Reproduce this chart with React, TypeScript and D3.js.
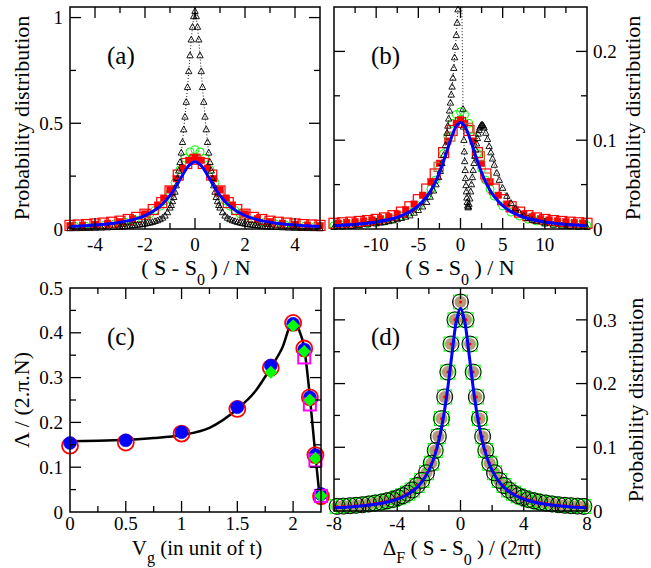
import * as d3 from 'd3';
import * as React from 'react';

type Pt = [number, number];

const serif = 'Liberation Serif, Times New Roman, DejaVu Serif, serif';

// ---------- panel (a) ----------
const aXTicks = [-4, -2, 0, 2, 4];
const aYTicks = [0, 0.5, 1];
const aTriangles: Pt[] = [
  [-5, 0.002], [-4.75, 0.0025], [-4.5, 0.003], [-4.25, 0.0035], [-4, 0.004], [-3.75, 0.005], [-3.5, 0.0065], [-3.25, 0.008],
  [-3, 0.0095], [-2.9, 0.0105], [-2.8, 0.012], [-2.7, 0.013], [-2.6, 0.0145], [-2.5, 0.016], [-2.4, 0.0175], [-2.3, 0.019],
  [-2.2, 0.02], [-2.1, 0.022], [-2, 0.024], [-1.9, 0.0265], [-1.8, 0.029], [-1.7, 0.032], [-1.6, 0.036], [-1.5, 0.04],
  [-1.4, 0.045], [-1.3, 0.052], [-1.2, 0.062], [-1.1, 0.078], [-1, 0.1], [-0.95, 0.112], [-0.9, 0.13], [-0.85, 0.15],
  [-0.8, 0.175], [-0.75, 0.205], [-0.7, 0.24], [-0.65, 0.275], [-0.6, 0.315], [-0.55, 0.36], [-0.5, 0.41], [-0.45, 0.47],
  [-0.4, 0.53], [-0.35, 0.6], [-0.3, 0.67], [-0.25, 0.745], [-0.2, 0.82], [-0.15, 0.895], [-0.1, 0.955], [-0.05, 1.005],
  [0, 1.03],
  [0.05, 1.005], [0.1, 0.955], [0.15, 0.895], [0.2, 0.82], [0.25, 0.745], [0.3, 0.67], [0.35, 0.6], [0.4, 0.53],
  [0.45, 0.47], [0.5, 0.41], [0.55, 0.36], [0.6, 0.315], [0.65, 0.275], [0.7, 0.24], [0.75, 0.205], [0.8, 0.175],
  [0.85, 0.15], [0.9, 0.13], [0.95, 0.112], [1, 0.1], [1.1, 0.078], [1.2, 0.062], [1.3, 0.052], [1.4, 0.045],
  [1.5, 0.04], [1.6, 0.036], [1.7, 0.032], [1.8, 0.029], [1.9, 0.0265], [2, 0.024], [2.1, 0.022], [2.2, 0.02],
  [2.3, 0.019], [2.4, 0.0175], [2.5, 0.016], [2.6, 0.0145], [2.7, 0.013], [2.8, 0.012], [2.9, 0.0105], [3, 0.0095],
  [3.25, 0.008], [3.5, 0.0065], [3.75, 0.005], [4, 0.004], [4.25, 0.0035], [4.5, 0.003], [4.75, 0.0025], [5, 0.002],
];
const aGreen: Pt[] = [
  [-4.8, 0.012], [-4.4, 0.014], [-4, 0.017], [-3.6, 0.02], [-3.2, 0.025], [-2.8, 0.032], [-2.4, 0.043], [-2, 0.06],
  [-1.8, 0.072], [-1.6, 0.088], [-1.4, 0.108], [-1.2, 0.135], [-1, 0.17], [-0.8, 0.22], [-0.6, 0.28], [-0.4, 0.335],
  [-0.2, 0.365], [0, 0.375], [0.2, 0.365], [0.4, 0.335], [0.6, 0.28], [0.8, 0.22], [1, 0.17], [1.2, 0.135],
  [1.4, 0.108], [1.6, 0.088], [1.8, 0.072], [2, 0.06], [2.4, 0.043], [2.8, 0.032], [3.2, 0.025], [3.6, 0.02],
  [4, 0.017], [4.4, 0.014], [4.8, 0.012],
];
const aRedOpen: Pt[] = [
  [-5, 0.017], [-4.67, 0.019], [-4.33, 0.021], [-4, 0.024], [-3.67, 0.028], [-3.33, 0.032], [-3, 0.037], [-2.67, 0.045],
  [-2.33, 0.055], [-2, 0.07], [-1.67, 0.092], [-1.33, 0.125], [-1, 0.18], [-0.67, 0.255], [-0.33, 0.31], [0, 0.33],
  [0.33, 0.31], [0.67, 0.255], [1, 0.18], [1.33, 0.125], [1.67, 0.092], [2, 0.07], [2.33, 0.055], [2.67, 0.045],
  [3, 0.037], [3.33, 0.032], [3.67, 0.028], [4, 0.024], [4.33, 0.021], [4.67, 0.019], [5, 0.017],
];
const aRedFilled: Pt[] = [
  [-5, 0.016], [-4.5, 0.018], [-4, 0.022], [-3.5, 0.027], [-3, 0.035], [-2.5, 0.048], [-2, 0.071], [-1.5, 0.113],
  [-1.25, 0.146], [-1, 0.185], [-0.75, 0.238], [-0.5, 0.288], [-0.25, 0.325], [0, 0.338], [0.25, 0.325], [0.5, 0.288],
  [0.75, 0.238], [1, 0.185], [1.25, 0.146], [1.5, 0.113], [2, 0.071], [2.5, 0.048], [3, 0.035], [3.5, 0.027],
  [4, 0.022], [4.5, 0.018], [5, 0.016],
];
const aBlue: Pt[] = [
  [-5, 0.0122], [-4.75, 0.0135], [-4.5, 0.015], [-4.25, 0.0167], [-4, 0.0187], [-3.75, 0.0211], [-3.5, 0.024],
  [-3.25, 0.0275], [-3, 0.0318], [-2.75, 0.0372], [-2.5, 0.0439], [-2.25, 0.0525], [-2, 0.0637], [-1.75, 0.0784],
  [-1.5, 0.0979], [-1.25, 0.1242], [-1, 0.1592], [-0.75, 0.2037], [-0.5, 0.2546], [-0.25, 0.2996], [0, 0.3183],
  [0.25, 0.2996], [0.5, 0.2546], [0.75, 0.2037], [1, 0.1592], [1.25, 0.1242], [1.5, 0.0979], [1.75, 0.0784],
  [2, 0.0637], [2.25, 0.0525], [2.5, 0.0439], [2.75, 0.0372], [3, 0.0318], [3.25, 0.0275], [3.5, 0.024],
  [3.75, 0.0211], [4, 0.0187], [4.25, 0.0167], [4.5, 0.015], [4.75, 0.0135], [5, 0.0122],
];

// ---------- panel (b) ----------
const bXTicks = [-10, -5, 0, 5, 10];
const bYTicks = [0, 0.1, 0.2];
const bTriangles: Pt[] = [
  [-15, 0.002], [-14, 0.0025], [-13, 0.003], [-12, 0.004], [-11, 0.005], [-10, 0.006], [-9.5, 0.0068], [-9, 0.0075],
  [-8.5, 0.0085], [-8, 0.0095], [-7.5, 0.0107], [-7, 0.012], [-6.5, 0.0135], [-6, 0.015], [-5.5, 0.018], [-5, 0.021],
  [-4.5, 0.025], [-4, 0.03], [-3.6, 0.036], [-3.2, 0.043], [-2.9, 0.05], [-2.6, 0.058], [-2.4, 0.065], [-2.2, 0.074],
  [-2, 0.083], [-1.8, 0.094], [-1.6, 0.108], [-1.5, 0.116], [-1.4, 0.124], [-1.3, 0.133], [-1.2, 0.142], [-1.1, 0.151],
  [-1, 0.16], [-0.9, 0.17], [-0.8, 0.181], [-0.7, 0.193], [-0.6, 0.205], [-0.5, 0.218], [-0.4, 0.232], [-0.3, 0.247],
  [-0.2, 0.262], [-0.1, 0.278], [0, 0.295], [0.1, 0.31], [0.3, 0.135], [0.35, 0.115], [0.4, 0.1], [0.45, 0.087],
  [0.5, 0.076], [0.55, 0.066], [0.6, 0.057], [0.65, 0.049], [0.7, 0.042], [0.75, 0.035], [0.8, 0.03], [0.85, 0.026],
  [0.9, 0.024], [0.95, 0.025], [1, 0.028], [1.1, 0.034], [1.2, 0.042], [1.3, 0.05], [1.4, 0.058], [1.5, 0.066],
  [1.6, 0.074], [1.7, 0.082], [1.8, 0.089], [1.9, 0.096], [2, 0.102], [2.1, 0.107], [2.2, 0.111], [2.3, 0.114],
  [2.4, 0.116], [2.5, 0.117], [2.6, 0.117], [2.7, 0.116], [2.8, 0.114], [3, 0.108], [3.2, 0.101], [3.4, 0.093],
  [3.6, 0.086], [3.8, 0.079], [4, 0.072], [4.3, 0.063], [4.6, 0.055], [5, 0.046], [5.5, 0.037], [6, 0.029],
  [6.5, 0.023], [7, 0.018], [7.5, 0.015], [8, 0.012], [8.5, 0.01], [9, 0.0085], [10, 0.006], [11, 0.0045],
  [12, 0.0035], [13, 0.0028], [14, 0.0023], [15, 0.002],
];
const bGreen: Pt[] = [
  [-15, 0.0038], [-14, 0.0042], [-13, 0.0047], [-12, 0.0054], [-11, 0.0063], [-10, 0.0075], [-9, 0.009], [-8, 0.011],
  [-7, 0.0145], [-6, 0.019], [-5, 0.026], [-4, 0.037], [-3.5, 0.045], [-3, 0.055], [-2.5, 0.068], [-2, 0.085],
  [-1.5, 0.104], [-1, 0.119], [-0.5, 0.129], [0, 0.132], [0.5, 0.129], [1, 0.119], [1.5, 0.104], [2, 0.085],
  [2.5, 0.068], [3, 0.055], [3.5, 0.045], [4, 0.037], [5, 0.026], [6, 0.019], [7, 0.0145], [8, 0.011],
  [9, 0.009], [10, 0.0075], [11, 0.0063], [12, 0.0054], [13, 0.0047], [14, 0.0042], [15, 0.0038],
];
const bRedOpen: Pt[] = [
  [-15, 0.0064], [-14, 0.007], [-13, 0.0077], [-12, 0.0085], [-11, 0.0095], [-10, 0.0108], [-9, 0.0125], [-8, 0.015],
  [-7, 0.019], [-6, 0.025], [-5, 0.033], [-4, 0.045], [-3, 0.062], [-2, 0.086], [-1, 0.111], [0, 0.12],
  [1, 0.111], [2, 0.086], [3, 0.062], [4, 0.045], [5, 0.033], [6, 0.025], [7, 0.019], [8, 0.015],
  [9, 0.0125], [10, 0.0108], [11, 0.0095], [12, 0.0085], [13, 0.0077], [14, 0.007], [15, 0.0064],
];
const bRedFilled: Pt[] = [
  [-14.5, 0.0066], [-13.5, 0.0073], [-12.5, 0.0081], [-11.5, 0.009], [-10.5, 0.0101], [-9.5, 0.0115], [-8.5, 0.0137],
  [-7.5, 0.0168], [-6.5, 0.0215], [-5.5, 0.028], [-4.5, 0.038], [-3.5, 0.053], [-2.5, 0.074], [-1.5, 0.099],
  [-0.5, 0.119], [0, 0.123], [0.5, 0.119], [1.5, 0.099], [2.5, 0.074], [3.5, 0.053], [4.5, 0.038], [5.5, 0.028],
  [6.5, 0.0215], [7.5, 0.0168], [8.5, 0.0137], [9.5, 0.0115], [10.5, 0.0101], [11.5, 0.009], [12.5, 0.0081],
  [13.5, 0.0073], [14.5, 0.0066],
];
const bBrown: Pt[] = [
  [-2.6, 0.07], [-1.2, 0.104], [0.9, 0.114], [2.3, 0.082], [3.1, 0.058],
];
const bBlue: Pt[] = [
  [-15, 0.0036], [-12, 0.0056], [-10, 0.0079], [-8, 0.0119], [-7, 0.015], [-6, 0.0196], [-5, 0.0263], [-4, 0.0366],
  [-3.5, 0.0437], [-3, 0.0526], [-2.5, 0.0635], [-2, 0.0765], [-1.5, 0.0909], [-1, 0.105], [-0.5, 0.1159], [0, 0.12],
  [0.5, 0.1159], [1, 0.105], [1.5, 0.0909], [2, 0.0765], [2.5, 0.0635], [3, 0.0526], [3.5, 0.0437], [4, 0.0366],
  [5, 0.0263], [6, 0.0196], [7, 0.015], [8, 0.0119], [10, 0.0079], [12, 0.0056], [15, 0.0036],
];

// ---------- panel (c) ----------
const cXTicks = [0, 0.5, 1, 1.5, 2];
const cYTicks = [0, 0.1, 0.2, 0.3, 0.4, 0.5];
const cCurve: Pt[] = [
  [0, 0.158], [0.25, 0.159], [0.5, 0.161], [0.75, 0.165], [1, 0.172], [1.25, 0.188], [1.5, 0.23], [1.65, 0.266],
  [1.8, 0.322], [1.9, 0.365], [2, 0.425], [2.05, 0.408], [2.1, 0.365], [2.15, 0.258], [2.2, 0.125], [2.24, 0.03],
];
const cRed: Pt[] = [
  [0, 0.148], [0.5, 0.155], [1, 0.175], [1.5, 0.23], [1.8, 0.322], [2, 0.422], [2.1, 0.365], [2.15, 0.256],
  [2.2, 0.127], [2.25, 0.035],
];
const cBlue: Pt[] = [
  [0, 0.154], [0.5, 0.16], [1, 0.178], [1.5, 0.234], [1.8, 0.327], [2, 0.42], [2.1, 0.363], [2.15, 0.256],
  [2.2, 0.127], [2.25, 0.04],
];
const cGreen: Pt[] = [[1.8, 0.312], [2, 0.416], [2.1, 0.358], [2.15, 0.25], [2.2, 0.12], [2.25, 0.036]];
const cMagenta: Pt[] = [[2.1, 0.345], [2.15, 0.24], [2.2, 0.115], [2.25, 0.036]];

// ---------- panel (d) ----------
const dXTicks = [-8, -4, 0, 4, 8];
const dYTicks = [0, 0.1, 0.2, 0.3];
const dCircles: Pt[] = [
  [-7.8, 0.0072], [-7.4, 0.0077], [-7, 0.0083], [-6.6, 0.009], [-6.2, 0.0098], [-5.8, 0.011], [-5.4, 0.0125],
  [-5, 0.014], [-4.65, 0.016], [-4.3, 0.018], [-3.95, 0.021], [-3.65, 0.024], [-3.35, 0.028], [-3.05, 0.033],
  [-2.75, 0.04], [-2.45, 0.048], [-2.15, 0.06], [-1.85, 0.075], [-1.6, 0.095], [-1.4, 0.117], [-1.2, 0.145],
  [-1, 0.179], [-0.8, 0.218], [-0.6, 0.262], [-0.35, 0.3], [0, 0.328], [0.35, 0.3], [0.6, 0.262], [0.8, 0.218],
  [1, 0.179], [1.2, 0.145], [1.4, 0.117], [1.6, 0.095], [1.85, 0.075], [2.15, 0.06], [2.45, 0.048], [2.75, 0.04],
  [3.05, 0.033], [3.35, 0.028], [3.65, 0.024], [3.95, 0.021], [4.3, 0.018], [4.65, 0.016], [5, 0.014],
  [5.4, 0.0125], [5.8, 0.011], [6.2, 0.0098], [6.6, 0.009], [7, 0.0083], [7.4, 0.0077], [7.8, 0.0072],
];
const dBlue: Pt[] = [
  [-8, 0.0049], [-7.5, 0.0056], [-7, 0.0064], [-6.5, 0.0074], [-6, 0.0086], [-5.5, 0.0102], [-5, 0.0122],
  [-4.5, 0.015], [-4, 0.0187], [-3.5, 0.024], [-3, 0.0318], [-2.5, 0.0439], [-2, 0.0637], [-1.75, 0.0784],
  [-1.5, 0.0979], [-1.25, 0.1242], [-1, 0.1592], [-0.75, 0.2037], [-0.5, 0.2546], [-0.25, 0.2996], [0, 0.3183],
  [0.25, 0.2996], [0.5, 0.2546], [0.75, 0.2037], [1, 0.1592], [1.25, 0.1242], [1.5, 0.0979], [1.75, 0.0784],
  [2, 0.0637], [2.5, 0.0439], [3, 0.0318], [3.5, 0.024], [4, 0.0187], [4.5, 0.015], [5, 0.0122], [5.5, 0.0102],
  [6, 0.0086], [6.5, 0.0074], [7, 0.0064], [7.5, 0.0056], [8, 0.0049],
];

interface Box { left: number; right: number; top: number; bottom: number; }
type Scale = d3.ScaleLinear<number, number>;

interface PanelProps {
  id: string;
  box: Box;
  xDomain: [number, number];
  yDomain: [number, number];
  xTicks: number[];
  yTicks: number[];
  xMinor: number;
  yMinor: number;
  ySide: 'left' | 'right';
  labelGap: number;
  tag: string;
  children: (x: Scale, y: Scale) => React.ReactNode;
}

const near = (list: number[], v: number) => list.some(t => Math.abs(t - v) < 1e-6);

function Panel(props: PanelProps) {
  const { id, box, xDomain, yDomain, xTicks, yTicks, xMinor, yMinor, ySide, labelGap, tag, children } = props;
  const x = d3.scaleLinear().domain(xDomain).range([box.left, box.right]);
  const y = d3.scaleLinear().domain(yDomain).range([box.bottom, box.top]);
  const xs = d3.range(xDomain[0], xDomain[1] + 1e-9, xMinor).filter(v => x(v) > box.left + 1 && x(v) < box.right - 1);
  const ys = d3.range(yDomain[0], yDomain[1] + 1e-9, yMinor).filter(v => y(v) < box.bottom - 1 && y(v) > box.top + 1);
  const tickLines: React.ReactNode[] = [];
  xs.forEach((v, i) => {
    const len = near(xTicks, v) ? 11 : 6;
    const px = x(v);
    tickLines.push(<line key={`xb${i}`} x1={px} x2={px} y1={box.bottom} y2={box.bottom - len} />);
    tickLines.push(<line key={`xt${i}`} x1={px} x2={px} y1={box.top} y2={box.top + len} />);
  });
  ys.forEach((v, i) => {
    const len = near(yTicks, v) ? 11 : 6;
    const py = y(v);
    tickLines.push(<line key={`yl${i}`} x1={box.left} x2={box.left + len} y1={py} y2={py} />);
    tickLines.push(<line key={`yr${i}`} x1={box.right} x2={box.right - len} y1={py} y2={py} />);
  });
  return (
    <g>
      <defs>
        <clipPath id={`clip-${id}`}>
          <rect x={box.left} y={box.top} width={box.right - box.left} height={box.bottom - box.top} />
        </clipPath>
      </defs>
      {children(x, y)}
      <rect x={box.left} y={box.top} width={box.right - box.left} height={box.bottom - box.top}
        fill="none" stroke="#000" strokeWidth={1.5} />
      <g stroke="#000" strokeWidth={1.3}>{tickLines}</g>
      <g fontSize={19} fill="#000" fontFamily={serif}>
        {xTicks.map(v => (
          <text key={`xl${v}`} x={x(v)} y={box.bottom + labelGap} textAnchor="middle">{String(v)}</text>
        ))}
        {yTicks.map(v => (
          <text key={`yl${v}`} x={ySide === 'left' ? box.left - 7 : box.right + 6} y={y(v)} dy="0.35em"
            textAnchor={ySide === 'left' ? 'end' : 'start'}>{String(v)}</text>
        ))}
      </g>
      <text x={box.left + 37} y={box.top + 57} fontSize={25} fontFamily={serif}>{tag}</text>
    </g>
  );
}

const inside = (x: Scale, y: Scale, d: Pt) => {
  const [x0, x1] = x.domain();
  const [y0, y1] = y.domain();
  return d[0] >= x0 - 1e-9 && d[0] <= x1 + 1e-9 && d[1] >= y0 && d[1] <= y1;
};

function Triangles({ data, x, y, clip }: { data: Pt[]; x: Scale; y: Scale; clip: string }) {
  const line = d3.line<Pt>().x(d => x(d[0])).y(d => y(d[1]));
  return (
    <g>
      <path d={line(data) || ''} fill="none" stroke="#000" strokeWidth={0.9} strokeDasharray="1 2" clipPath={`url(#${clip})`} />
      {data.filter(d => inside(x, y, d)).map((d, i) => {
        const cx = x(d[0]);
        const cy = y(d[1]);
        return <path key={i} d={`M${cx},${cy - 3.6}L${cx + 3.2},${cy + 2.2}L${cx - 3.2},${cy + 2.2}Z`}
          fill="none" stroke="#000" strokeWidth={0.9} />;
      })}
    </g>
  );
}

function Circles({ data, x, y, r, stroke, fill = 'none', sw = 1 }:
  { data: Pt[]; x: Scale; y: Scale; r: number; stroke: string; fill?: string; sw?: number }) {
  return (
    <g>
      {data.filter(d => inside(x, y, d)).map((d, i) => (
        <circle key={i} cx={x(d[0])} cy={y(d[1])} r={r} fill={fill} stroke={stroke} strokeWidth={sw} />
      ))}
    </g>
  );
}

function Squares({ data, x, y, s, stroke, fill = 'none', sw = 1.2 }:
  { data: Pt[]; x: Scale; y: Scale; s: number; stroke: string; fill?: string; sw?: number }) {
  return (
    <g>
      {data.filter(d => inside(x, y, d)).map((d, i) => (
        <rect key={i} x={x(d[0]) - s / 2} y={y(d[1]) - s / 2} width={s} height={s} fill={fill} stroke={stroke} strokeWidth={sw} />
      ))}
    </g>
  );
}

function Diamonds({ data, x, y, s, fill }: { data: Pt[]; x: Scale; y: Scale; s: number; fill: string }) {
  return (
    <g>
      {data.map((d, i) => {
        const cx = x(d[0]);
        const cy = y(d[1]);
        return <path key={i} d={`M${cx},${cy - s}L${cx + s},${cy}L${cx},${cy + s}L${cx - s},${cy}Z`} fill={fill} />;
      })}
    </g>
  );
}

function Curve({ data, x, y, color, width, clip, curve = d3.curveCatmullRom }:
  { data: Pt[]; x: Scale; y: Scale; color: string; width: number; clip?: string; curve?: d3.CurveFactory }) {
  const line = d3.line<Pt>().x(d => x(d[0])).y(d => y(d[1])).curve(curve);
  return <path d={line(data) || ''} fill="none" stroke={color} strokeWidth={width} strokeLinejoin="round"
    clipPath={clip ? `url(#${clip})` : undefined} />;
}

const aBox: Box = { left: 70, right: 320, top: 7, bottom: 229 };
const bBox: Box = { left: 334, right: 587, top: 7, bottom: 229 };
const cBox: Box = { left: 70, right: 321, top: 288, bottom: 512 };
const dBox: Box = { left: 334, right: 587, top: 288, bottom: 511 };

const GREEN = '#00ff00';
const RED = '#ff0000';
const BLUE = '#0000ff';
const MAGENTA = '#ff00ff';
const BROWN = '#c06a2a';

function Sub({ children, dy }: { children: string; dy: number }) {
  return <tspan fontSize={16} dy={dy}>{children}</tspan>;
}

export default function App() {
  return (
    <svg width={651} height={568} viewBox="0 0 651 568" fontFamily={serif}
      style={{ position: 'absolute', left: 0, top: 0, background: '#fff' }}>
      <rect width={651} height={568} fill="#fff" />

      <Panel id="a" box={aBox} xDomain={[-5, 5]} yDomain={[0, 1.05]} xTicks={aXTicks} yTicks={aYTicks}
        xMinor={1} yMinor={0.25} ySide="left" labelGap={22} tag="(a)">
        {(x, y) => (
          <g>
            <Circles data={aGreen} x={x} y={y} r={4} stroke={GREEN} />
            <Squares data={aRedOpen} x={x} y={y} s={10} stroke={RED} />
            <Squares data={aRedFilled} x={x} y={y} s={6.5} stroke={RED} fill={RED} sw={0.5} />
            <Triangles data={aTriangles} x={x} y={y} clip="clip-a" />
            <Curve data={aBlue} x={x} y={y} color={BLUE} width={3} clip="clip-a" />
          </g>
        )}
      </Panel>

      <Panel id="b" box={bBox} xDomain={[-15, 15]} yDomain={[0, 0.25]} xTicks={bXTicks} yTicks={bYTicks}
        xMinor={2.5} yMinor={0.05} ySide="right" labelGap={22} tag="(b)">
        {(x, y) => (
          <g>
            <Circles data={bGreen} x={x} y={y} r={4} stroke={GREEN} />
            <Squares data={bRedOpen} x={x} y={y} s={10} stroke={RED} />
            <Squares data={bRedFilled} x={x} y={y} s={6.5} stroke={RED} fill={RED} sw={0.5} />
            <Squares data={bBrown} x={x} y={y} s={9} stroke={BROWN} />
            <Triangles data={bTriangles} x={x} y={y} clip="clip-b" />
            <Curve data={bBlue} x={x} y={y} color={BLUE} width={3} clip="clip-b" />
          </g>
        )}
      </Panel>

      <Panel id="c" box={cBox} xDomain={[0, 2.25]} yDomain={[0, 0.5]} xTicks={cXTicks} yTicks={cYTicks}
        xMinor={0.25} yMinor={0.05} ySide="left" labelGap={18} tag="(c)">
        {(x, y) => (
          <g>
            <Curve data={cCurve} x={x} y={y} color="#000" width={2.5} curve={d3.curveMonotoneX} />
            <Circles data={cRed} x={x} y={y} r={8} stroke={RED} sw={1.8} />
            <Circles data={cBlue} x={x} y={y} r={6.5} stroke={BLUE} fill={BLUE} sw={0.5} />
            <Squares data={cMagenta} x={x} y={y} s={12} stroke={MAGENTA} sw={2} />
            <Diamonds data={cGreen} x={x} y={y} s={6.5} fill={GREEN} />
          </g>
        )}
      </Panel>

      <Panel id="d" box={dBox} xDomain={[-8, 8]} yDomain={[0, 0.35]} xTicks={dXTicks} yTicks={dYTicks}
        xMinor={2} yMinor={0.05} ySide="right" labelGap={19} tag="(d)">
        {(x, y) => (
          <g>
            <Circles data={dCircles} x={x} y={y} r={6} stroke="none" fill="#b89a7a" />
            <Squares data={dCircles} x={x} y={y} s={14} stroke={GREEN} sw={1} />
            <Circles data={dCircles} x={x} y={y} r={8} stroke="#000" sw={1} />
            <Circles data={dCircles} x={x} y={y} r={1.5} stroke="none" fill={RED} />
            <Curve data={dBlue} x={x} y={y} color={BLUE} width={3} clip="clip-d" />
          </g>
        )}
      </Panel>

      {/* axis titles */}
      <g fontSize={22} fill="#000" fontFamily={serif} style={{ whiteSpace: 'pre' }}>
        <text transform="translate(29,118) rotate(-90)" textAnchor="middle">Probability distribution</text>
        <text transform="translate(640,118) rotate(-90)" textAnchor="middle">Probability distribution</text>
        <text transform="translate(643,400) rotate(-90)" textAnchor="middle">Probability distribution</text>
        <text transform="translate(29,400) rotate(-90)" textAnchor="middle">Λ / (2.π.N)</text>
        <text x={196} y={275} textAnchor="middle">
          {'( S - S'}<Sub dy={10}>0</Sub><tspan dy={-10}>{' ) / N'}</tspan>
        </text>
        <text x={460} y={275} textAnchor="middle">
          {'( S - S'}<Sub dy={10}>0</Sub><tspan dy={-10}>{' ) / N'}</tspan>
        </text>
      </g>
      <g fontSize={21} fill="#000" fontFamily={serif} style={{ whiteSpace: 'pre' }}>
        <text x={197} y={555} textAnchor="middle">
          {'V'}<Sub dy={8}>g</Sub><tspan dy={-8}>{' (in unit of t)'}</tspan>
        </text>
        <text x={462} y={555} textAnchor="middle">
          {'Δ'}<Sub dy={8}>F</Sub><tspan dy={-8}>{' ( S - S'}</tspan><Sub dy={10}>0</Sub>
          <tspan dy={-10}>{' ) / (2πt)'}</tspan>
        </text>
      </g>
    </svg>
  );
}
